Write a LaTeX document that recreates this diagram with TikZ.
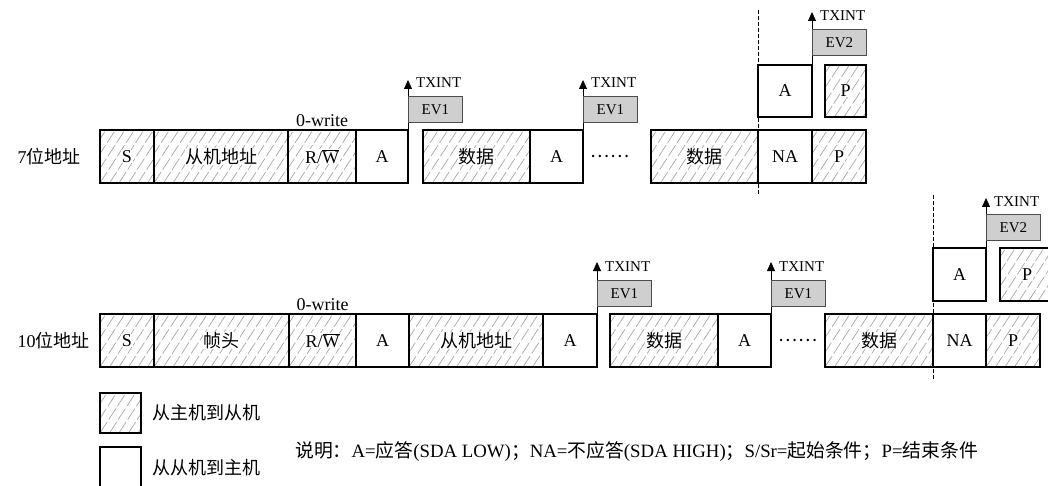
\documentclass[tikz,border=0pt]{standalone}
\usepackage{fontspec}
\setmainfont{Liberation Serif}
\newfontfamily\cjk{Noto Sans CJK SC}
\usetikzlibrary{arrows.meta,positioning,calc}

% white patch behind a label on a hatched field
\newcommand\wl[1]{{\setlength\fboxsep{0.5pt}\colorbox{white}{#1}}}

\begin{document}
\begin{tikzpicture}[
  x=1pt, y=-1pt,
  font=\fontsize{18}{20}\selectfont,
  box/.style={
    draw, line width=1.4pt, outer sep=0pt, inner sep=0pt,
    minimum height=53pt, anchor=west
  },
  slave/.style={box, fill=white},
  master/.style={
    box,
    path picture={
      \foreach \k in {-6,...,17}
        \draw[gray!70, line width=0.7pt, dash pattern=on 13pt off 3pt]
          ([xshift=\k*9.5pt]path picture bounding box.south west) -- ++(57:160pt);
    }
  },
  irq/.style={-{Triangle[width=8pt,length=9pt]}, line width=0.8pt},
  txint/.style={anchor=west, inner sep=0pt, font=\fontsize{15}{17}\selectfont},
  evbox/.style={
    draw=black!70, fill=black!19, line width=0.8pt, anchor=north west,
    minimum width=54pt, minimum height=26pt, inner sep=0pt,
    font=\fontsize{15}{17}\selectfont
  },
  cut/.style={line width=0.8pt, dash pattern=on 4pt off 2pt},
  wlabel/.style={inner sep=1pt}
]
\useasboundingbox (0,0) rectangle (1048,486);

% ==================== 7-bit address ====================
\node[anchor=west] (t7) at (14,156.5) {7{\cjk 位地址}};

\node (ts) [master, minimum width=54pt] at (100,156.5) {\wl{S}};
\node (taddr) [master, minimum width=134pt, right=0pt of ts] {\wl{\cjk 从机地址}};
\node (trw) [master, minimum width=68pt, right=0pt of taddr] {\wl{R/$\overline{\mbox{W}}$}};
\node (ta1) [slave, minimum width=52pt, right=0pt of trw] {A};
\node (tdat1) [master, minimum width=107pt, right=15pt of ta1] {\wl{\cjk 数据}};
\node (ta2) [slave, minimum width=53pt, right=0pt of tdat1] {A};
\node (tdots) at (610,156.5) {\cjk ……};
\node (tdat2) [master, minimum width=107pt] at (651,156.5) {\wl{\cjk 数据}};
\node (tna) [slave, minimum width=54pt, right=0pt of tdat2] {NA};
\node (tp) [master, minimum width=54pt, right=0pt of tna] {\wl{P}};

\node (tack) [slave, minimum width=54pt, minimum height=52pt, above=13pt of tna] {A};
\node (tstop) [master, minimum width=41pt, minimum height=52pt, right=13pt of tack] {\wl{P}};

\node (tw) [wlabel, above=2pt of trw] {0-write};

\draw[cut] ([yshift=120pt]tna.north west) -- ([yshift=-12pt]tna.south west);

% interrupts
\draw[irq] (ta1.north east) -- ++(0,-50) coordinate (ti1);
\node (tt1) [txint] at ([xshift=8pt, yshift=-3pt]ti1) {TXINT};
\node (tev1) [evbox] at ([yshift=-16pt]ti1) {EV1};

\draw[irq] (ta2.north east) -- ++(0,-50) coordinate (ti2);
\node (tt2) [txint] at ([xshift=8pt, yshift=-3pt]ti2) {TXINT};
\node (tev2) [evbox] at ([yshift=-16pt]ti2) {EV1};

\draw[irq] (tack.north east) -- ++(0,-53) coordinate (ti3);
\node (tt3) [txint] at ([xshift=8pt, yshift=-4pt]ti3) {TXINT};
\node (tev3) [evbox] at ([yshift=-17pt]ti3) {EV2};

% ==================== 10-bit address ====================
\node[anchor=west] (t10) at (14,340.5) {10{\cjk 位地址}};

\node (bs) [master, minimum width=54pt] at (100,340.5) {\wl{S}};
\node (bhead) [master, minimum width=135pt, right=0pt of bs] {\wl{\cjk 帧头}};
\node (brw) [master, minimum width=67pt, right=0pt of bhead] {\wl{R/$\overline{\mbox{W}}$}};
\node (ba1) [slave, minimum width=53pt, right=0pt of brw] {A};
\node (baddr) [master, minimum width=134pt, right=0pt of ba1] {\wl{\cjk 从机地址}};
\node (ba2) [slave, minimum width=54pt, right=0pt of baddr] {A};
\node (bdat1) [master, minimum width=108pt, right=13pt of ba2] {\wl{\cjk 数据}};
\node (ba3) [slave, minimum width=53pt, right=0pt of bdat1] {A};
\node (bdots) at (798,340.5) {\cjk ……};
\node (bdat2) [master, minimum width=108pt] at (825,340.5) {\wl{\cjk 数据}};
\node (bna) [slave, minimum width=53pt, right=0pt of bdat2] {NA};
\node (bp) [master, minimum width=54pt, right=0pt of bna] {\wl{P}};

\node (back) [slave, minimum width=53pt, minimum height=53pt, above=13pt of bna] {A};
\node (bstop) [master, minimum width=54pt, minimum height=53pt, right=14pt of back] {\wl{P}};

\node (bw) [wlabel, above=2pt of brw] {0-write};

\draw[cut] ([yshift=119pt]bna.north west) -- ([yshift=-13pt]bna.south west);

% interrupts
\draw[irq] (ba2.north east) -- ++(0,-52) coordinate (bi1);
\node (bt1) [txint] at ([xshift=8pt, yshift=-5pt]bi1) {TXINT};
\node (bev1) [evbox] at ([yshift=-18pt]bi1) {EV1};

\draw[irq] (ba3.north east) -- ++(0,-52) coordinate (bi2);
\node (bt2) [txint] at ([xshift=8pt, yshift=-5pt]bi2) {TXINT};
\node (bev2) [evbox] at ([yshift=-18pt]bi2) {EV1};

\draw[irq] (back.north east) -- ++(0,-50) coordinate (bi3);
\node (bt3) [txint] at ([xshift=8pt, yshift=-4pt]bi3) {TXINT};
\node (bev3) [evbox] at ([yshift=-16pt]bi3) {EV2};

% ==================== legend ====================
\node (lm) [master, minimum width=41pt, minimum height=40pt, anchor=north west] at (100,393) {};
\node (ls) [slave, minimum width=41pt, minimum height=41pt, anchor=north west] at (100,447) {};
\node (lmt) [right=8pt of lm] {\cjk 从主机到从机};
\node (lst) [right=8pt of ls] {\cjk 从从机到主机};

\node (note) [anchor=west, inner sep=0pt, font=\fontsize{18.8}{21}\selectfont] at (295,452)
  {{\cjk 说明：}A={\cjk 应答}(SDA LOW){\cjk ；}NA={\cjk 不应答}(SDA HIGH){\cjk ；}S/Sr={\cjk 起始条件；}P={\cjk 结束条件}};

\end{tikzpicture}
\end{document}
